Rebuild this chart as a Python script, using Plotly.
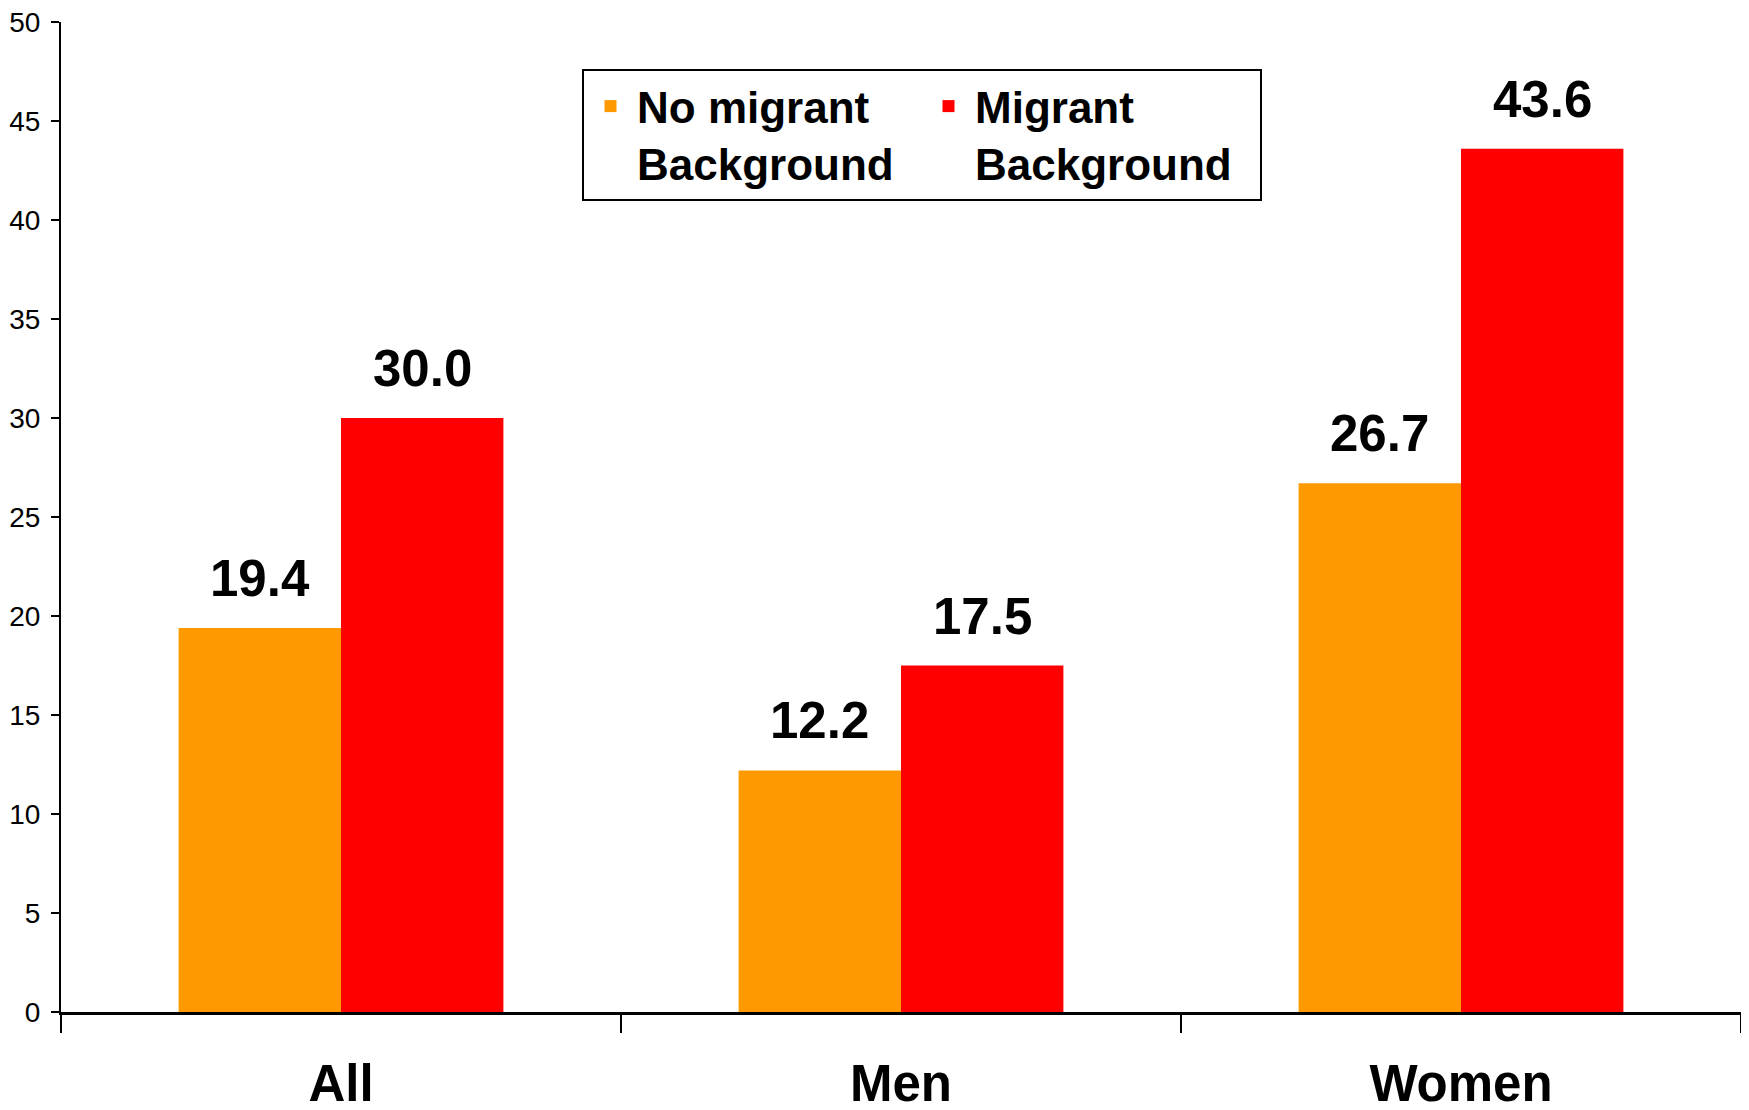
import plotly.graph_objects as go

categories = ["All", "Men", "Women"]
no_migrant = [19.4, 12.2, 26.7]
migrant = [30.0, 17.5, 43.6]
series_names = ["No migrant<br>Background", "Migrant<br>Background"]
y_ticks = [0, 5, 10, 15, 20, 25, 30, 35, 40, 45, 50]

colors = ["#FF9900", "#FF0000"]
FONT = "Liberation Sans, Arial, sans-serif"

fig = go.Figure()
for name, vals, col in zip(series_names, [no_migrant, migrant], colors):
    fig.add_trace(go.Bar(
        x=categories, y=vals, name=name,
        marker=dict(color=col, line=dict(width=0)),
    ))

W, H = 1749, 1110
# page body has an 8px margin, so the figure is offset by 8px
ml, mr, mt, mb = 53, 16, 14, 106
plot_w = W - ml - mr
plot_h = H - mt - mb
cat_w = plot_w / len(categories)
bargap = 0.42
bar_w = cat_w * (1 - bargap) / 2

annotations = []
for vals, sign in [(no_migrant, -1), (migrant, 1)]:
    for c, v in zip(categories, vals):
        annotations.append(dict(
            x=c, y=v, xref="x", yref="y", text=f"{v:.1f}",
            showarrow=False, xshift=sign * bar_w / 2, yshift=19,
            yanchor="bottom",
            font=dict(family=FONT, size=51, color="black", weight="bold"),
        ))

fig.update_layout(
    width=W, height=H,
    margin=dict(l=ml, r=mr, t=mt, b=mb, autoexpand=False),
    paper_bgcolor="white", plot_bgcolor="white",
    barmode="group", bargap=bargap, bargroupgap=0,
    font=dict(family=FONT, color="black"),
    showlegend=True,
    legend=dict(
        orientation="h",
        x=(574 - ml) / plot_w, y=(H - mb - 61) / plot_h,
        xanchor="left", yanchor="top",
        bordercolor="black", borderwidth=2, bgcolor="white",
        font=dict(family=FONT, size=44, color="black", weight="bold"),
        valign="top", entrywidth=280, itemwidth=43, traceorder="normal",
    ),
    annotations=annotations,
    xaxis=dict(
        type="category", showline=True, linecolor="black", linewidth=3,
        ticks="outside", tickson="boundaries", ticklen=18, tickwidth=2,
        tickcolor="black", showgrid=False, automargin=False,
        tickfont=dict(family=FONT, size=51, color="black", weight="bold"),
        ticklabelstandoff=25, ticklabeloverflow="allow",
    ),
    yaxis=dict(
        range=[0, 50], tickvals=y_ticks, showline=True, linecolor="black",
        linewidth=2, ticks="outside", ticklen=8, tickwidth=2, tickcolor="black",
        showgrid=False, zeroline=False, automargin=False,
        tickfont=dict(family=FONT, size=28, color="black"),
        ticklabelstandoff=5, ticklabeloverflow="allow",
    ),
)

fig.write_html("out.html")
